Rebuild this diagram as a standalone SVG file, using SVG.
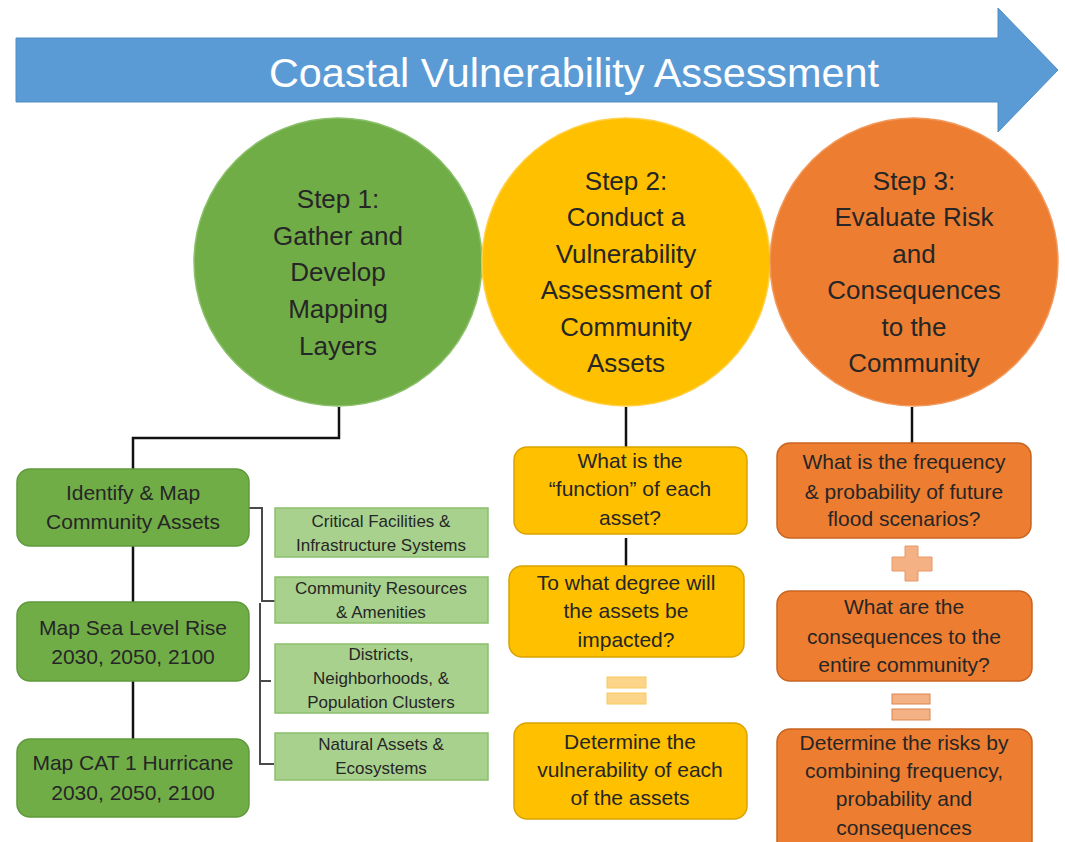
<svg xmlns="http://www.w3.org/2000/svg" width="1065" height="842" viewBox="0 0 1065 842">
<style>
text{font-family:"Liberation Sans",Arial,sans-serif;text-anchor:middle;fill:#262626}
.title{font-size:40px;fill:#ffffff}
.circ{font-size:26px}
.box{font-size:21px}
.small{font-size:17px}
.gbox{fill:#70ad47;stroke:#5f9a3b;stroke-width:1.5}
.lgbox{fill:#a9d18e;stroke:#8cbf6c;stroke-width:1.5}
.ybox{fill:#ffc000;stroke:#d9a300;stroke-width:1.5}
.obox{fill:#ed7d31;stroke:#c96420;stroke-width:1.5}
.main{stroke:#111;stroke-width:2.5;fill:none}
.thin{stroke:#4a4a4a;stroke-width:2;fill:none}
</style>
<rect width="1065" height="842" fill="#ffffff"/>
<g id="banner">
<polygon points="16,38 998,38 998,8 1058,70 998,132 998,102 16,102" fill="#5b9bd5" stroke="#4f8cc4" stroke-width="1"/>
<text class="title" x="574" y="87" textLength="610" lengthAdjust="spacingAndGlyphs">Coastal Vulnerability Assessment</text>
</g>
<g id="connectors">
<polyline class="main" points="339,407 339,438 133,438 133,469"/>
<line class="main" x1="133" y1="546" x2="133" y2="602"/>
<line class="main" x1="133" y1="681" x2="133" y2="739"/>
<polyline class="thin" points="249,508 262,508 262,601 275,601"/>
<polyline class="thin" points="260,603 260,764 274,764"/>
<line class="thin" x1="260" y1="681" x2="271" y2="681"/>
<line class="main" x1="626" y1="407" x2="626" y2="447"/>
<line class="main" x1="626" y1="538" x2="626" y2="566"/>
<line class="main" x1="912" y1="407" x2="912" y2="443"/>
</g>
<g id="step1">
<circle cx="338" cy="262" r="144" fill="#70ad47" stroke="#8cc06a" stroke-width="1.5"/>
<text class="circ" x="338" y="208">Step 1:</text>
<text class="circ" x="338" y="245">Gather and</text>
<text class="circ" x="338" y="281">Develop</text>
<text class="circ" x="338" y="318">Mapping</text>
<text class="circ" x="338" y="355">Layers</text>
</g>
<g id="step2">
<circle cx="626" cy="262" r="144" fill="#ffc000" stroke="#ffd04a" stroke-width="1.5"/>
<text class="circ" x="626" y="190">Step 2:</text>
<text class="circ" x="626" y="226">Conduct a</text>
<text class="circ" x="626" y="263">Vulnerability</text>
<text class="circ" x="626" y="299">Assessment of</text>
<text class="circ" x="626" y="336">Community</text>
<text class="circ" x="626" y="372">Assets</text>
</g>
<g id="step3">
<circle cx="914" cy="262" r="144" fill="#ed7d31" stroke="#f29a5e" stroke-width="1.5"/>
<text class="circ" x="914" y="190">Step 3:</text>
<text class="circ" x="914" y="226">Evaluate Risk</text>
<text class="circ" x="914" y="263">and</text>
<text class="circ" x="914" y="299">Consequences</text>
<text class="circ" x="914" y="336">to the</text>
<text class="circ" x="914" y="372">Community</text>
</g>
<g id="identify-assets">
<rect class="gbox" x="17" y="469" width="232" height="77" rx="13"/>
<text class="box" x="133" y="500">Identify &amp; Map</text>
<text class="box" x="133" y="529">Community Assets</text>
</g>
<g id="sea-level">
<rect class="gbox" x="17" y="602" width="232" height="79" rx="13"/>
<text class="box" x="133" y="635">Map Sea Level Rise</text>
<text class="box" x="133" y="664">2030, 2050, 2100</text>
</g>
<g id="hurricane">
<rect class="gbox" x="17" y="739" width="232" height="78" rx="13"/>
<text class="box" x="133" y="770">Map CAT 1 Hurricane</text>
<text class="box" x="133" y="800">2030, 2050, 2100</text>
</g>
<g id="critical-facilities">
<rect class="lgbox" x="275" y="508" width="213" height="49"/>
<text class="small" x="381" y="527">Critical Facilities &amp;</text>
<text class="small" x="381" y="551">Infrastructure Systems</text>
</g>
<g id="community-resources">
<rect class="lgbox" x="275" y="577" width="213" height="46"/>
<text class="small" x="381" y="594">Community Resources</text>
<text class="small" x="381" y="618">&amp; Amenities</text>
</g>
<g id="districts">
<rect class="lgbox" x="275" y="644" width="213" height="69"/>
<text class="small" x="381" y="660">Districts,</text>
<text class="small" x="381" y="684">Neighborhoods, &amp;</text>
<text class="small" x="381" y="708">Population Clusters</text>
</g>
<g id="natural-assets">
<rect class="lgbox" x="275" y="733" width="213" height="47"/>
<text class="small" x="381" y="750">Natural Assets &amp;</text>
<text class="small" x="381" y="774">Ecosystems</text>
</g>
<g id="function">
<rect class="ybox" x="514" y="447" width="233" height="87" rx="13"/>
<text class="box" x="630" y="468">What is the</text>
<text class="box" x="630" y="496">“function” of each</text>
<text class="box" x="630" y="525">asset?</text>
</g>
<g id="degree">
<rect class="ybox" x="509" y="566" width="235" height="91" rx="13"/>
<text class="box" x="626" y="590">To what degree will</text>
<text class="box" x="626" y="618">the assets be</text>
<text class="box" x="626" y="647">impacted?</text>
</g>
<g id="equals-yellow">
<rect x="607" y="677" width="39" height="11" fill="#fdd58a" stroke="#f8c95e" stroke-width="1"/>
<rect x="607" y="693" width="39" height="11" fill="#fdd58a" stroke="#f8c95e" stroke-width="1"/>
</g>
<g id="vulnerability">
<rect class="ybox" x="514" y="723" width="233" height="96" rx="13"/>
<text class="box" x="630" y="749">Determine the</text>
<text class="box" x="630" y="777">vulnerability of each</text>
<text class="box" x="630" y="805">of the assets</text>
</g>
<g id="frequency">
<rect class="obox" x="777" y="443" width="254" height="95" rx="13"/>
<text class="box" x="904" y="469">What is the frequency</text>
<text class="box" x="904" y="499">&amp; probability of future</text>
<text class="box" x="904" y="526">flood scenarios?</text>
</g>
<g id="plus">
<path d="M905,546 H918 V557 H932 V571 H918 V581 H905 V571 H892 V557 H905 Z" fill="#f4b183" stroke="#e8976a" stroke-width="1"/>
</g>
<g id="consequences">
<rect class="obox" x="777" y="591" width="255" height="90" rx="13"/>
<text class="box" x="904" y="614">What are the</text>
<text class="box" x="904" y="644">consequences to the</text>
<text class="box" x="904" y="672">entire community?</text>
</g>
<g id="equals-orange">
<rect x="892" y="694" width="38" height="10" fill="#f4b183" stroke="#d9864f" stroke-width="1"/>
<rect x="892" y="709" width="38" height="11" fill="#f4b183" stroke="#d9864f" stroke-width="1"/>
</g>
<g id="risks">
<rect class="obox" x="777" y="729" width="255" height="125" rx="13"/>
<text class="box" x="904" y="750">Determine the risks by</text>
<text class="box" x="904" y="778">combining frequency,</text>
<text class="box" x="904" y="806">probability and</text>
<text class="box" x="904" y="835">consequences</text>
</g>
</svg>
